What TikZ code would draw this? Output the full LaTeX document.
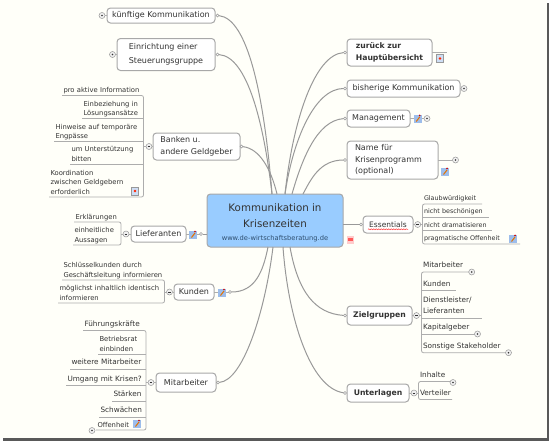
\documentclass[tikz,border=0pt]{standalone}
\usepackage{fontspec}
\setmainfont{DejaVu Sans}
\usetikzlibrary{decorations.pathmorphing}
\definecolor{paper}{HTML}{FFFFF9}
\definecolor{inkgray}{HTML}{333333}
\definecolor{linegray}{HTML}{999999}
\definecolor{centerblue}{HTML}{99CCFF}
\definecolor{urlblue}{HTML}{2F4F70}
\definecolor{iconblue}{HTML}{9DBDEB}

\tikzset{
  topic/.style 2 args={draw=linegray!85, line width=1pt, rounded corners=3.5pt, fill=white, text=inkgray,
    minimum width=#1pt, minimum height=#2pt, inner sep=0pt, outer sep=0pt, align=left,
    font=\fontsize{8}{11.5}\selectfont},
  leaf/.style={anchor=south west, text width=#1pt, align=left, inner xsep=1.5pt, inner ysep=.2pt, outer sep=0pt,
    text=inkgray, font=\fontsize{6.8}{9.3}\selectfont, execute at begin node=\strut, execute at end node=\strut},
  narrow/.style={inner ysep=.6pt, font=\fontsize{6.4}{9.3}\selectfont},
  wide/.style={inner ysep=1pt, font=\fontsize{7.3}{11.5}\selectfont},
  strong/.style={font=\fontsize{7.7}{11.5}\selectfont\bfseries},
  branch/.style={draw=linegray!80, line width=.8pt},
  curve/.style={draw=linegray, line width=1pt},
  knob/.style={circle, draw=linegray, fill=white, line width=.5pt, minimum size=3pt, inner sep=0pt, outer sep=0pt},
  togplus/.style={circle, draw=linegray, fill=black!6, line width=.5pt, minimum size=6pt, inner sep=0pt, outer sep=0pt,
    path picture={\fill[inkgray] (path picture bounding box.center) circle (.9pt);}},
  togminus/.style={circle, draw=linegray, fill=black!6, line width=.5pt, minimum size=6pt, inner sep=0pt, outer sep=0pt,
    path picture={\draw[inkgray, line width=.5pt] ([xshift=-1.4pt]path picture bounding box.center) -- ([xshift=1.4pt]path picture bounding box.center);}},
  pencilicon/.pic={
    \fill[iconblue] (-4,-4) rectangle (4,4);
    \draw[orange!90!black, line width=1pt] (-1.5,2.5) -- (2,-2);
    \fill[red!80!black] (2,-3.6) circle (.9);
  },
  docicon/.pic={
    \fill[iconblue!50] (-3.5,-4) rectangle (3.5,4);
    \draw[linegray, line width=.3pt] (-3.5,-4) rectangle (3.5,4);
    \fill[red!70!orange] (0,0) circle (1.4);
  },
  noteicon/.pic={
    \fill[red!20] (-3.5,-4) rectangle (3.5,4);
    \fill[red!65] (-2.5,-2.5) rectangle (2.5,1);
  }
}

\begin{document}
\begin{tikzpicture}[x=1pt,y=-1pt]
  \useasboundingbox (0,0) rectangle (551,442);
  \fill[paper] (0,0) rectangle (546.5,438);
  \draw[black!65, line width=2.5pt] (548,3) -- (548,439.5) -- (3,439.5);

  \node[topic={136}{53}, fill=centerblue, align=center, font=\fontsize{10.3}{16}\selectfont] (central) at (275,220.5)
    {\rule{0pt}{12pt}Kommunikation in\\Krisenzeiten\\[-3pt]{\fontsize{6.7}{9}\selectfont\color{urlblue}www.de-wirtschaftsberatung.de}};

  \node[topic={108}{15}] (kuenftig) at (161,15.5) {künftige Kommunikation};
  \node[topic={98}{32}, font=\fontsize{8}{14}\selectfont] (steuerung) at (166,54.5) {Einrichtung einer\\Steuerungsgruppe};
  \node[topic={87}{27}] (banken) at (196.5,146.5) {Banken u.\\andere Geldgeber};
  \node[topic={55}{16}] (lieferanten) at (158.5,234) {Lieferanten};
  \node[topic={40}{16}] (kunden) at (194,292) {Kunden};
  \node[topic={60}{19}] (mitarbeiter) at (186,382.5) {Mitarbeiter};
  \node[topic={85}{27}, strong] (zurueck) at (389.5,52.5) {zurück zur\\Hauptübersicht};
  \node[topic={113}{17}] (bisherige) at (403.5,88.5) {bisherige Kommunikation};
  \node[topic={63}{17}] (management) at (378.5,118.5) {Management};
  \node[topic={91}{38}, text width=75pt] (programm) at (392.5,160) {Name für\\Krisenprogramm\\(optional)};
  \node[topic={50}{17}, font=\fontsize{7.5}{11.5}\selectfont] (essentials) at (388,224.5) {Essentials};
  \node[topic={65}{19}, strong] (zielgruppen) at (379.5,315.5) {Zielgruppen};
  \node[topic={62}{18}, strong] (unterlagen) at (378,393) {Unterlagen};

  \node[knob] (kuenftigk) at (217.5,15.5) {};
  \node[knob] (steuerungk) at (217.5,54.5) {};
  \node[knob] (bankenk) at (241.5,146.5) {};
  \node[knob] (lieferantenk) at (201,234) {};
  \node[knob] (kundenk) at (230,292) {};
  \node[knob] (mitarbeiterk) at (218,382.5) {};
  \node[knob] (zurueckk) at (345,52.5) {};
  \node[knob] (bisherigek) at (345,88.5) {};
  \node[knob] (managementk) at (345,118.5) {};
  \node[knob] (programmk) at (345,160) {};
  \node[knob] (essentialsk) at (361,224.5) {};
  \node[knob] (zielgruppenk) at (345,315.5) {};
  \node[knob] (unterlagenk) at (345,393) {};

  \draw[curve] (kuenftigk) .. controls +(30,3) and +(-8,-100) .. ([xshift=-3pt]central.north);
  \draw[curve] (steuerungk) .. controls +(30,2) and +(-8,-70) .. ([xshift=-3pt]central.north);
  \draw[curve] (bankenk) .. controls +(18,2) and +(-6,-25) .. ([xshift=2pt]central.north);
  \draw[curve] (zurueckk) .. controls +(-30,2) and +(8,-75) .. ([xshift=10pt]central.north);
  \draw[curve] (bisherigek) .. controls +(-30,0) and +(8,-55) .. ([xshift=10pt]central.north);
  \draw[curve] (managementk) .. controls +(-28,2) and +(10,-35) .. ([xshift=17pt]central.north);
  \draw[curve] (programmk) .. controls +(-25,0) and +(8,-15) .. ([xshift=28pt]central.north);
  \draw[curve] (kundenk) .. controls +(25,0) and +(-5,25) .. ([xshift=-7pt]central.south);
  \draw[curve] (mitarbeiterk) .. controls +(25,-2) and +(-8,65) .. ([xshift=-2pt]central.south);
  \draw[curve] (unterlagenk) .. controls +(-35,-5) and +(5,70) .. ([xshift=8pt]central.south);
  \draw[curve] (zielgruppenk) .. controls +(-30,-2) and +(8,45) .. ([xshift=15pt]central.south);
  \draw[curve] (lieferantenk) -- (lieferantenk -| central.west);
  \draw[curve] (essentialsk) -- (essentialsk -| central.east);

  \node[togplus] (kuenftigt) at (102,15.5) {};
  \node[togplus] (steuerungt) at (112.5,54.5) {};
  \node[togminus] (bankent) at (149,146.5) {};
  \node[togminus] (lieferantent) at (126,234) {};
  \node[togminus] (kundent) at (169.5,292) {};
  \node[togminus] (mitarbeitert) at (151,382.5) {};
  \node[togplus] (bisheriget) at (464,88.5) {};
  \node[togplus] (managementt) at (427,118.5) {};
  \node[togplus] (programmt) at (455.5,160) {};
  \node[togminus] (essentialst) at (417.7,224.5) {};
  \node[togminus] (zielgruppent) at (416.5,315.5) {};
  \node[togminus] (unterlagent) at (414,393) {};
  \coordinate (zurueckend) at (447,52.5);

  \node[leaf=78.5] (aktiv) at (62,95.5) {pro aktive Information};
  \node[leaf=58.5] (einbez) at (82,118.5) {Einbeziehung in\\Lösungsansätze};
  \node[leaf=86.5] (hinweise) at (54,141.5) {Hinweise auf temporäre\\Engpässe};
  \node[leaf=70.5] (unterstuetz) at (70,164) {um Unterstützung\\bitten};
  \node[leaf=91.5] (koordination) at (49,197) {Koordination\\zwischen Geldgebern\\erforderlich};
  \node[leaf=44] (erklaer) at (74,222) {Erklärungen};
  \node[leaf=45] (einheit) at (73,245) {einheitliche\\Aussagen};
  \node[leaf=99.5] (schluessel) at (62,280) {Schlüsselkunden durch\\Geschäftsleitung informieren};
  \node[leaf=103.5] (identisch) at (58,303) {möglichst inhaltlich identisch\\informieren};
  \node[leaf=60, wide] (fuehrung) at (83,330.5) {Führungskräfte};
  \node[leaf=45] (betriebsrat) at (98,354) {Betriebsrat\\einbinden};
  \node[leaf=73, wide] (weitere) at (70,369) {weitere Mitarbeiter};
  \node[leaf=77, wide] (umgang) at (66,385.5) {Umgang mit Krisen?};
  \node[leaf=31, wide] (staerken) at (112,401) {Stärken};
  \node[leaf=44, wide] (schwaechen) at (99,417) {Schwächen};
  \node[leaf=47, font=\fontsize{6.8}{8}\selectfont] (offenheit) at (96,430) {Offenheit};
  \node[leaf=56.5, narrow] (glaub) at (422.5,204) {Glaubwürdigkeit};
  \node[leaf=63.5, narrow] (beschoen) at (422.5,217) {nicht beschönigen};
  \node[leaf=66.5, narrow] (dramat) at (422.5,230.7) {nicht dramatisieren};
  \node[leaf=94.5, narrow] (pragmat) at (422.5,244) {pragmatische Offenheit};
  \node[leaf=46.5, wide] (zmitarb) at (421.5,272) {Mitarbeiter};
  \node[leaf=31.5, wide] (zkunden) at (421.5,290.5) {Kunden};
  \node[leaf=57.5, wide] (zdienst) at (421.5,318) {Dienstleister/\\Lieferanten};
  \node[leaf=52.5, wide] (zkapital) at (421.5,334) {Kapitalgeber};
  \node[leaf=83.5, wide] (zsonst) at (421.5,352.7) {Sonstige Stakeholder};
  \node[leaf=31.5, wide] (uinhalt) at (418.5,381.5) {Inhalte};
  \node[leaf=30.5, wide] (uverteil) at (418.5,399.5) {Verteiler};

  \foreach \n in {einbez,hinweise,unterstuetz,betriebsrat,weitere,umgang,staerken,schwaechen,beschoen,dramat,zkunden,zdienst,zkapital}
    \draw[branch] (\n.south west) -- (\n.south east);

  \draw[branch, rounded corners=2pt] (aktiv.south west) -- (aktiv.south east) -- (koordination.south east) -- (koordination.south west);
  \draw[branch, rounded corners=2pt] (erklaer.south west) -- (erklaer.south east) -- (einheit.south east) -- (einheit.south west);
  \draw[branch, rounded corners=2pt] (schluessel.south west) -- (schluessel.south east) -- (identisch.south east) -- (identisch.south west);
  \draw[branch, rounded corners=2pt] (fuehrung.south west) -- (fuehrung.south east) -- (offenheit.south east) -- (offenheit.south west);
  \draw[branch, rounded corners=2pt] (glaub.south east) -- (glaub.south west) -- (pragmat.south west) -- (pragmat.south east);
  \draw[branch, rounded corners=2pt] (zmitarb.south east) -- (zmitarb.south west) -- (zsonst.south west) -- (zsonst.south east);
  \draw[branch, rounded corners=2pt] (uinhalt.south east) -- (uinhalt.south west) -- (uverteil.south west) -- (uverteil.south east);

  \draw[branch] (kuenftig.west) -- (kuenftigt);
  \draw[branch] (steuerung.west) -- (steuerungt);
  \draw[branch] (banken.west) -- (bankent);
  \draw[branch] (bankent) -- (bankent -| aktiv.south east);
  \draw[branch] (lieferanten.west) -- (lieferantent);
  \draw[branch] (lieferantent) -- (lieferantent -| erklaer.south east);
  \draw[branch] (kunden.west) -- (kundent);
  \draw[branch] (kundent) -- (kundent -| identisch.south east);
  \draw[branch] (mitarbeiter.west) -- (mitarbeitert);
  \draw[branch] (mitarbeitert) -- (mitarbeitert -| umgang.south east);
  \draw[branch] (lieferanten.east) -- (lieferantenk);
  \draw[branch] (kunden.east) -- (kundenk);
  \draw[branch] (zurueck.east) -- (zurueckend);
  \draw[branch] (bisherige.east) -- (bisheriget);
  \draw[branch] (management.east) -- (managementt);
  \draw[branch] (programm.east) -- (programmt);
  \draw[branch] (essentials.east) -- (essentialst);
  \draw[branch] (essentialst) -- (essentialst -| glaub.south west);
  \draw[branch] (zielgruppen.east) -- (zielgruppent);
  \draw[branch] (zielgruppent) -- (zielgruppent -| zmitarb.south west);
  \draw[branch] (unterlagen.east) -- (unterlagent);
  \draw[branch] (unterlagent) -- (unterlagent -| uinhalt.south west);
  \draw[red!80, line width=.5pt, decorate, decoration={snake, amplitude=.5pt, segment length=2.5pt}] (368,229.3) -- (408,229.3);

  \node[togplus] (offent) at (92,430.5) {};
  \node[togplus] (zmitarbt) at (471.7,272) {};
  \node[togplus] (zkapitalt) at (477.5,334) {};
  \node[togplus] (zsonstt) at (508.5,352.7) {};
  \node[togplus] (uinhaltt) at (453,382.5) {};

  \pic at (193,235) {pencilicon};
  \pic at (222,293) {pencilicon};
  \pic at (137,424) {pencilicon};
  \pic at (417.7,119) {pencilicon};
  \pic at (445,172) {pencilicon};
  \pic at (513,239) {pencilicon};
  \pic at (135,191) {docicon};
  \pic at (440,58.5) {docicon};
  \pic at (350,240) {noteicon};
\end{tikzpicture}
\end{document}
